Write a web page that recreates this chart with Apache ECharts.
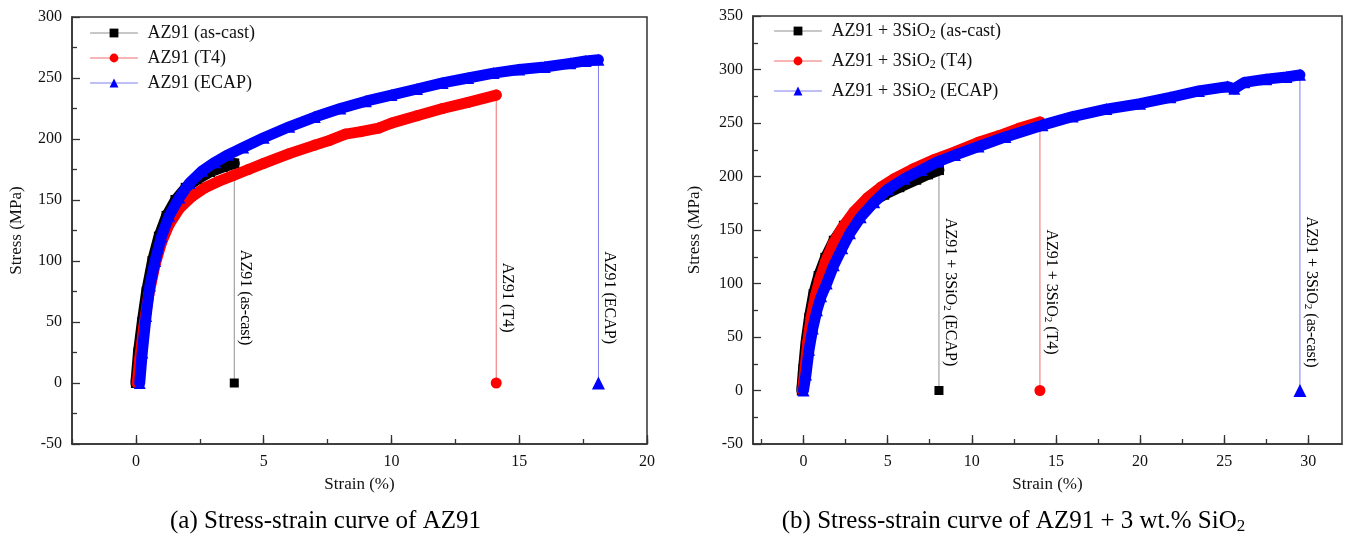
<!DOCTYPE html>
<html>
<head>
<meta charset="utf-8">
<script src="https://cdn.jsdelivr.net/npm/echarts@6.0.0/dist/echarts.min.js"></script>
<style>
html,body{margin:0;padding:0;background:#fff;}
#chart{width:1347px;height:538px;}
</style>
</head>
<body>
<div id="chart"></div>
<script>
// ---------------- Panel (a): AZ91 ----------------
const aNames = ['AZ91 (as-cast)', 'AZ91 (T4)', 'AZ91 (ECAP)'];
const aNotes = ['AZ91 (as-cast)', 'AZ91 (T4)', 'AZ91 (ECAP)'];
const aAsCast = [[0,0],[0.1,25],[0.25,50],[0.42,75],[0.65,100],[0.9,120],[1.2,137],[1.55,150],[1.95,160],[2.4,167],[2.9,173],[3.4,177],[3.85,180]];
const aT4 = [[0.05,0],[0.15,20],[0.3,45],[0.5,72],[0.75,97],[1.0,115],[1.3,130],[1.7,143],[2.2,153],[2.7,160],[3.2,165],[3.8,170],[4.4,175],[5,180],[6,188],[7,195],[7.6,199],[8.2,204],[8.8,206],[9.5,209],[10,213],[11,219],[12,225],[13,230],[14.1,236]];
const aECAP = [[0.15,0],[0.25,25],[0.4,55],[0.55,80],[0.75,100],[1.0,120],[1.3,137],[1.7,152],[2.1,164],[2.6,174],[3.1,181],[3.6,187],[4.2,193],[5,201],[6,210],[7,218],[8,225],[9,231],[10,236],[11,241],[12,246],[13,250],[14,254],[15,257],[16,259],[17,262],[17.6,264],[18.1,265]];
const aXLabels = [0, 5, 10, 15, 20];
const aXMinor = [-2.5, 2.5, 7.5, 12.5, 17.5];
const aXRange = [-2.5, 20];
const aYRange = [-50, 300];

// ---------------- Panel (b): AZ91 + 3 wt.% SiO2 ----------------
const bNames = ['AZ91 + 3SiO2 (as-cast)', 'AZ91 + 3SiO2 (T4)', 'AZ91 + 3SiO2 (ECAP)'];
const bNotes = ['AZ91 + 3SiO2 (ECAP)', 'AZ91 + 3SiO2 (T4)', 'AZ91 + 3SiO2 (as-cast)'];
const bAsCast = [[-0.1,0],[0.0,20],[0.15,45],[0.35,68],[0.6,90],[0.9,107],[1.3,124],[1.8,140],[2.4,154],[3.1,166],[3.9,175],[4.8,183],[5.7,190],[6.7,197],[7.4,202],[8.05,206]];
const bT4 = [[-0.05,0],[0.1,22],[0.25,45],[0.45,68],[0.7,88],[0.95,103],[1.3,120],[1.75,137],[2.3,152],[3.0,167],[3.8,180],[4.6,190],[5.4,198],[6.5,207],[7.8,216],[9,223],[10.4,232],[11.6,238],[12.8,245],[14.05,251]];
const bECAP = [[0,0],[0.15,15],[0.33,38],[0.55,58],[0.8,75],[1.05,88],[1.38,100],[1.8,117],[2.3,133],[2.76,147],[3.4,162],[4.2,176],[5,188],[6,198],[7,206],[8,214],[9,220],[10.4,228],[12,237],[14.2,248],[16,256],[18,263],[20,268],[21.8,274],[23.5,280],[25.2,284],[25.6,282],[26.2,288],[27.5,291],[28.7,293],[29.5,295]];
const bXLabels = [0, 5, 10, 15, 20, 25, 30];
const bXMinor = [-2.5, 2.5, 7.5, 12.5, 17.5, 22.5, 27.5];
const bXRange = [-3, 32];
const bYRange = [-50, 350];

const captions = ['(a) Stress-strain curve of AZ91', '(b) Stress-strain curve of AZ91 + 3 wt.% SiO2'];

// ---------------- styling ----------------
const FONT = '"Liberation Serif", "Times New Roman", "DejaVu Serif", serif';
const AX = '#333';
const STY = [
  {color: '#000000', light: '#8f8f8f', symbol: 'rect',     cSize: 10, eSize: 9},
  {color: '#ff0000', light: '#ef6d6d', symbol: 'circle',   cSize: 11, eSize: 11},
  {color: '#0000ff', light: '#7c7cf0', symbol: 'triangle', cSize: 12, eSize: 13}
];
const GRIDS = [
  {left: 72, top: 17, width: 575, height: 427},
  {left: 753, top: 16, width: 589, height: 428}
];

function richSub(str, t, s) {
  return str.split('SiO2').map(p => '{' + t + '|' + p + '}').join('{' + t + '|SiO}{' + s + '|2}');
}

const panels = [
  {names: aNames, notes: aNotes, curves: [aAsCast, aT4, aECAP], xr: aXRange, yr: aYRange, major: aXLabels, minor: aXMinor, noteY: 70, nameGap: 47},
  {names: bNames, notes: bNotes, curves: [bAsCast, bT4, bECAP], xr: bXRange, yr: bYRange, major: bXLabels, minor: bXMinor, noteY: 92, nameGap: 50}
];

const xAxes = [], yAxes = [], series = [], grids = [];
panels.forEach((p, gi) => {
  grids.push(Object.assign({show: true, borderColor: AX, borderWidth: 1.5, backgroundColor: 'rgba(0,0,0,0)'}, GRIDS[gi]));
  const allTicks = p.major.concat(p.minor).sort((a, b) => a - b);
  xAxes.push({
    type: 'value', gridIndex: gi, position: 'bottom', min: p.xr[0], max: p.xr[1],
    axisLine: {show: true, onZero: false, lineStyle: {color: AX, width: 1.5}},
    axisTick: {show: true, inside: true, length: 5, customValues: allTicks, lineStyle: {color: AX, width: 1.3}},
    axisLabel: {show: false},
    splitLine: {show: false},
    name: 'Strain (%)', nameLocation: 'middle', nameGap: 32,
    nameTextStyle: {fontFamily: FONT, fontSize: 17, color: '#111'}
  });
  xAxes.push({
    type: 'value', gridIndex: gi, position: 'bottom', offset: 0, min: p.xr[0], max: p.xr[1],
    axisLine: {show: false, onZero: false},
    axisTick: {show: true, inside: true, length: 9, customValues: p.major, lineStyle: {color: AX, width: 1.3}},
    axisLabel: {show: true, customValues: p.major, fontFamily: FONT, fontSize: 16, color: '#111', margin: 10},
    splitLine: {show: false}
  });
  yAxes.push({
    type: 'value', gridIndex: gi, min: p.yr[0], max: p.yr[1], interval: 50,
    axisLine: {show: true, onZero: false, lineStyle: {color: AX, width: 1.5}},
    axisTick: {show: true, inside: true, length: 8, lineStyle: {color: AX, width: 1.3}},
    minorTick: {show: true, splitNumber: 2, length: 5, lineStyle: {color: AX, width: 1.3}},
    axisLabel: {fontFamily: FONT, fontSize: 16, color: '#111', margin: 10},
    splitLine: {show: false}, minorSplitLine: {show: false},
    name: 'Stress (MPa)', nameLocation: 'middle', nameGap: p.nameGap,
    nameTextStyle: {fontFamily: FONT, fontSize: 17, color: '#111'}
  });
  // drop lines + markers at zero stress
  p.curves.forEach((c, i) => {
    const end = c[c.length - 1];
    series.push({
      type: 'line', xAxisIndex: 2 * gi, yAxisIndex: gi, silent: true, z: 1,
      lineStyle: {color: STY[i].light, width: 1},
      itemStyle: {color: STY[i].color},
      data: [
        {value: [end[0], end[1]], symbol: 'none'},
        {value: [end[0], 0], symbol: STY[i].symbol, symbolSize: STY[i].eSize}
      ]
    });
  });
  // curves
  p.curves.forEach((c, i) => {
    series.push({
      type: 'line', name: p.names[i], xAxisIndex: 2 * gi, yAxisIndex: gi, z: 3 + i,
      symbol: STY[i].symbol, symbolSize: STY[i].cSize, showSymbol: true, showAllSymbol: true,
      lineStyle: {color: STY[i].color, width: 11, join: 'round', cap: 'round'},
      itemStyle: {color: STY[i].color},
      data: c
    });
  });
});

const richLegend = {
  t: {fontFamily: FONT, fontSize: 18, color: '#111', lineHeight: 20},
  s: {fontFamily: FONT, fontSize: 12, color: '#111', lineHeight: 10, verticalAlign: 'bottom'}
};

const legends = [
  {
    data: aNames.map((n, i) => ({name: n, lineStyle: {color: STY[i].light, width: 1}})),
    orient: 'vertical', left: 90, top: 24, padding: 0, itemWidth: 47, itemHeight: 11, itemGap: 7,
    selectedMode: false,
    textStyle: {fontFamily: FONT, fontSize: 18, color: '#111', padding: [0, 0, 0, 5]}
  },
  {
    data: bNames.map((n, i) => ({name: n, lineStyle: {color: STY[i].light, width: 1}})),
    orient: 'vertical', left: 774, top: 22, padding: 0, itemWidth: 47, itemHeight: 11, itemGap: 11,
    selectedMode: false,
    formatter: n => richSub(n, 't', 's'),
    textStyle: {fontFamily: FONT, fontSize: 18, color: '#111', padding: [0, 0, 0, 5], rich: richLegend}
  }
];

const chart = echarts.init(document.getElementById('chart'), null, {renderer: 'canvas'});
chart.setOption({
  animation: false,
  backgroundColor: '#fff',
  grid: grids,
  xAxis: xAxes,
  yAxis: yAxes,
  legend: legends,
  series: series
});

// annotation texts and captions
const graphics = [];
const richNote = {
  t: {fontFamily: FONT, fontSize: 16, color: '#111', lineHeight: 18},
  s: {fontFamily: FONT, fontSize: 11, color: '#111', lineHeight: 9, verticalAlign: 'bottom'}
};
panels.forEach((p, gi) => {
  p.curves.forEach((c, i) => {
    const end = c[c.length - 1];
    const pt = chart.convertToPixel({xAxisIndex: 2 * gi, yAxisIndex: gi}, [end[0], p.noteY]);
    graphics.push({
      type: 'text', x: pt[0] + 11, y: pt[1], rotation: -Math.PI / 2, z: 20, silent: true,
      style: {text: richSub(p.notes[i], 't', 's'), rich: richNote, align: 'center', verticalAlign: 'middle'}
    });
  });
  const g = GRIDS[gi];
  graphics.push({
    type: 'text', x: g.left + g.width / 2 - 34, y: 521, z: 20, silent: true,
    style: {
      text: richSub(captions[gi], 'c', 'd'),
      rich: {
        c: {fontFamily: FONT, fontSize: 25, color: '#111', lineHeight: 28},
        d: {fontFamily: FONT, fontSize: 17, color: '#111', lineHeight: 14, verticalAlign: 'bottom'}
      },
      align: 'center', verticalAlign: 'middle'
    }
  });
});
chart.setOption({graphic: graphics});
</script>
</body>
</html>
